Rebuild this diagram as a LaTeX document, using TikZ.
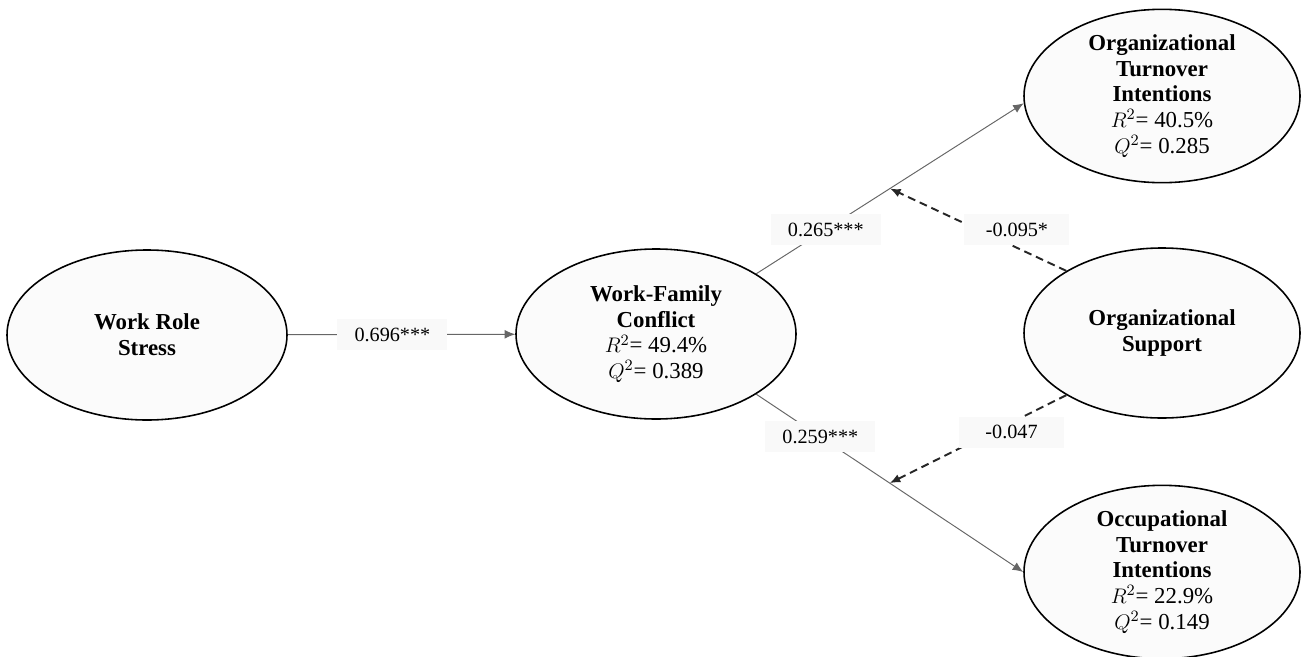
\documentclass[tikz,border=0pt]{standalone}
\usepackage{fontspec}
\setmainfont{Liberation Serif}
\usetikzlibrary{shapes.geometric, arrows.meta, positioning}

\begin{document}
\begin{tikzpicture}[
    construct/.style={ellipse, draw=black, line width=0.9pt, fill=gray!3,
        minimum width=5.6cm, minimum height=3.4cm, inner sep=0pt,
        align=center, font=\fontsize{13}{14.6}\selectfont},
    effect/.style={draw=black!60, line width=0.55pt, -{Latex[length=6pt,width=5pt]}},
    moderation/.style={draw=black!85, line width=1.1pt, dash pattern=on 4.5pt off 2.8pt,
        -{Latex[length=6pt,width=5pt]}},
    coef/.style={fill=gray!5, minimum width=2.2cm, minimum height=0.62cm, inner sep=0pt,
        font=\fontsize{11.5}{13}\selectfont}
]
    \useasboundingbox (0,0) rectangle (26.02,13.12);

    % Constructs
    \node[construct] (wrs) at (2.94,6.42) {\bfseries Work Role\\ \bfseries Stress};
    \node[construct] (wfc) at (13.12,6.44) {\bfseries Work-Family\\ \bfseries Conflict\\
        $R^2$= 49.4\%\\ $Q^2$= 0.389};
    \node[construct, minimum width=5.52cm] (oti) at (23.24,11.2) {\bfseries Organizational\\
        \bfseries Turnover\\ \bfseries Intentions\\ $R^2$= 40.5\%\\ $Q^2$= 0.285};
    \node[construct, minimum width=5.52cm] (os) at (23.24,6.46) {\bfseries Organizational\\
        \bfseries Support};
    \node[construct, minimum width=5.52cm] (octi) at (23.24,1.68) {\bfseries Occupational\\
        \bfseries Turnover\\ \bfseries Intentions\\ $R^2$= 22.9\%\\ $Q^2$= 0.149};

    % Direct paths
    \draw[effect] (wrs) -- node[coef, pos=0.46] (c1) {0.696***} (wfc);
    \draw[effect] (wfc.31) -- node[coef, pos=0.26] (c2) {0.265***}
        coordinate[pos=0.5] (m1) (oti.183);
    \draw[effect] (wfc.-31) -- node[coef, pos=0.24] (c3) {0.259***}
        coordinate[pos=0.5] (m2) (octi.180);

    % Moderating paths
    \draw[moderation] (os.147) -- node[coef, pos=0.28, yshift=0.36cm, minimum width=2.1cm] (c4) {-0.095*} (m1);
    \draw[moderation] (os.213) -- node[coef, pos=0.31, yshift=-0.2cm, minimum width=2.1cm] (c5) {-0.047} (m2);
\end{tikzpicture}
\end{document}
